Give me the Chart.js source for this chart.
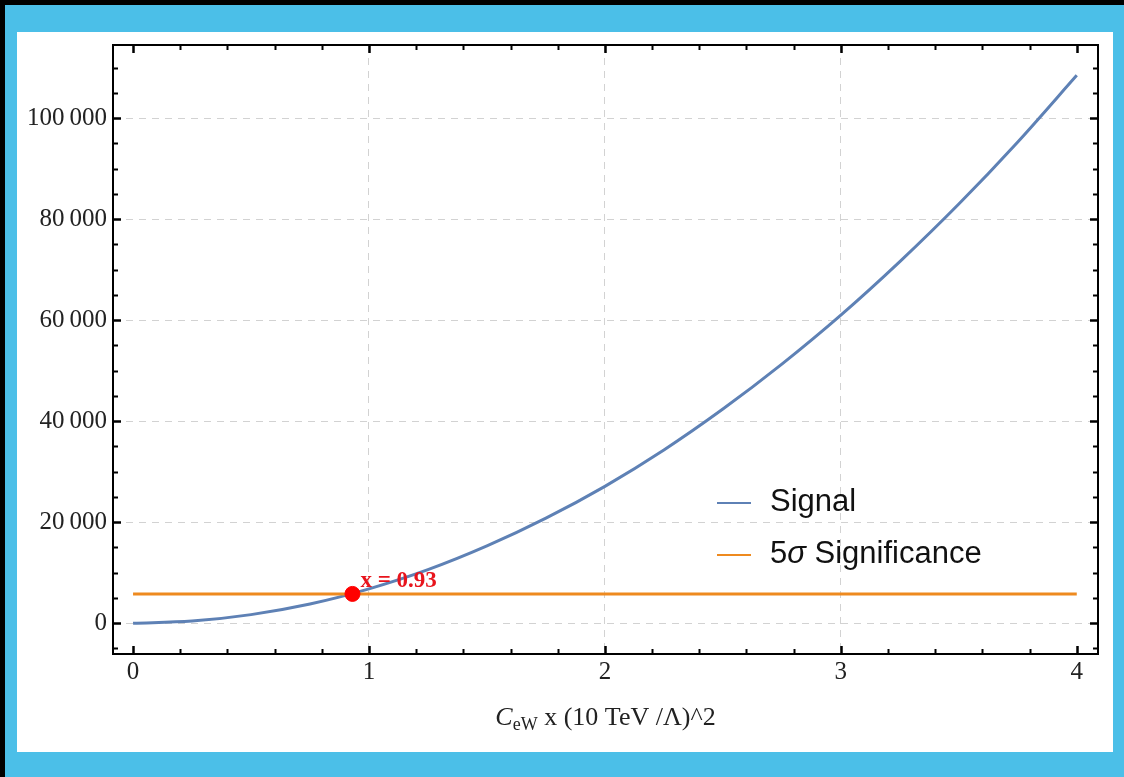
<!DOCTYPE html>
<html>
<head>
<meta charset="utf-8">
<script src="https://cdn.jsdelivr.net/npm/chart.js@4/dist/chart.umd.min.js"></script>
<style>
  html, body { margin: 0; padding: 0; }
  body { width: 1124px; height: 777px; background: #000; position: relative; overflow: hidden; }
  #frame { position: absolute; left: 5px; top: 5px; right: 0; bottom: 0; background: #4bbfe8; }
  #paper { position: absolute; left: 17px; top: 32px; width: 1096px; height: 720px; background: #fff; }
</style>
</head>
<body>
<div id="frame"></div>
<div id="paper"><canvas id="chart" width="1096" height="720"></canvas></div>
<script>
// Signal curve
const xValues = [0, 0.25, 0.5, 0.75, 1, 1.25, 1.5, 1.75, 2, 2.25, 2.5, 2.75, 3, 3.25, 3.5, 3.75, 4];
const signalValues = [0, 420, 1700, 3800, 6800, 10600, 15300, 20800, 27100, 34300, 42400, 51300, 61000, 71600, 83000, 95300, 108500];

// 5 sigma line and crossing point
const thresholdX = [0, 4];
const thresholdValue = 5800;
const crossX = 0.93;
const crossLabel = 'x = 0.93';

// Axes
const xTicks = [0, 1, 2, 3, 4];
const yTicks = [0, 20000, 40000, 60000, 80000, 100000];
const xRange = [-0.085, 4.09];
const yRange = [-6100, 114500];

const legendLabels = ['Signal', 'Significance'];
const signalColor = '#5e81b5';
const thresholdColor = '#ee8a1f';

const serif = '"Liberation Serif", "DejaVu Serif", serif';
const sans = '"Liberation Sans", Arial, sans-serif';

function fmt(v) {
    return String(v).replace(/\B(?=(\d{3})+(?!\d))/g, '\u2009');
}

// Mathematica style frame with inward ticks on all four sides
const framePlugin = {
    id: 'frame',
    afterDraw(chart) {
        const ctx = chart.ctx;
        const a = chart.chartArea;
        const xs = chart.scales.x, ys = chart.scales.y;
        ctx.save();
        ctx.strokeStyle = '#000';
        ctx.lineWidth = 2;
        ctx.strokeRect(a.left, a.top, a.right - a.left, a.bottom - a.top);

        for (let i = 0; i <= 20; i++) {
            const v = i * 0.2;
            const major = i % 5 === 0;
            const len = major ? 8 : 5;
            const px = Math.round(xs.getPixelForValue(v)) + 0.5;
            ctx.lineWidth = major ? 2.5 : 2;
            ctx.beginPath();
            ctx.moveTo(px, a.bottom); ctx.lineTo(px, a.bottom - len);
            ctx.moveTo(px, a.top); ctx.lineTo(px, a.top + len);
            ctx.stroke();
        }
        for (let v = -5000; v <= 110000; v += 5000) {
            const major = v % 20000 === 0;
            const len = major ? 8 : 5;
            const py = Math.round(ys.getPixelForValue(v)) + 0.5;
            ctx.lineWidth = major ? 2.5 : 2;
            ctx.beginPath();
            ctx.moveTo(a.left, py); ctx.lineTo(a.left + len, py);
            ctx.moveTo(a.right, py); ctx.lineTo(a.right - len, py);
            ctx.stroke();
        }

        // x axis title: C_eW x (10 TeV /Λ)^2
        const cx = (a.left + a.right) / 2;
        const by = a.bottom + 71;
        ctx.fillStyle = '#222';
        ctx.textBaseline = 'alphabetic';
        const parts = [
            { t: 'C', f: 'italic 26px ' + serif, dy: 0 },
            { t: 'eW', f: '18px ' + serif, dy: 5 },
            { t: ' x (10 TeV /\u039B)^2', f: '26px ' + serif, dy: 0 }
        ];
        let total = 0;
        parts.forEach(p => { ctx.font = p.f; p.w = ctx.measureText(p.t).width; total += p.w; });
        let x = cx - total / 2;
        ctx.textAlign = 'left';
        parts.forEach(p => { ctx.font = p.f; ctx.fillText(p.t, x, by + p.dy); x += p.w; });

        // legend inside plot
        const lx = a.left + 604, ly1 = a.top + 458, ly2 = a.top + 510;
        ctx.lineWidth = 2;
        ctx.strokeStyle = signalColor;
        ctx.beginPath(); ctx.moveTo(lx, ly1); ctx.lineTo(lx + 34, ly1); ctx.stroke();
        ctx.strokeStyle = thresholdColor;
        ctx.beginPath(); ctx.moveTo(lx, ly2); ctx.lineTo(lx + 34, ly2); ctx.stroke();
        ctx.fillStyle = '#111';
        ctx.textBaseline = 'middle';
        ctx.font = '31px ' + sans;
        ctx.fillText(legendLabels[0], lx + 53, ly1 - 1);
        let tx = lx + 53;
        ctx.fillText('5', tx, ly2 - 1);
        tx += ctx.measureText('5').width;
        ctx.font = 'italic 31px ' + sans;
        ctx.fillText('\u03C3', tx, ly2 - 1);
        tx += ctx.measureText('\u03C3 ').width;
        ctx.font = '31px ' + sans;
        ctx.fillText(legendLabels[1], tx, ly2 - 1);
        ctx.restore();
    },
    afterDatasetsDraw(chart) {
        const ctx = chart.ctx;
        const px = chart.scales.x.getPixelForValue(crossX);
        const py = chart.scales.y.getPixelForValue(thresholdValue);
        ctx.save();
        ctx.fillStyle = '#e8141c';
        ctx.font = 'bold 23px ' + serif;
        ctx.textBaseline = 'alphabetic';
        ctx.fillText(crossLabel, px + 8, py - 7);
        ctx.restore();
    }
};

new Chart(document.getElementById('chart'), {
    type: 'line',
    data: {
        datasets: [{
            label: 'Signal',
            data: xValues.map((x, i) => ({ x: x, y: signalValues[i] })),
            borderColor: signalColor,
            borderWidth: 3,
            pointRadius: 0,
            cubicInterpolationMode: 'monotone',
            order: 2
        }, {
            label: '5\u03C3 Significance',
            data: thresholdX.map(x => ({ x: x, y: thresholdValue })),
            borderColor: thresholdColor,
            borderWidth: 3,
            pointRadius: 0,
            order: 1
        }, {
            type: 'scatter',
            label: 'crossing',
            data: [{ x: crossX, y: thresholdValue }],
            backgroundColor: '#f00',
            borderColor: '#f00',
            pointRadius: 7.5,
            order: 0
        }]
    },
    options: {
        responsive: false,
        animation: false,
        devicePixelRatio: 1,
        layout: { padding: { top: 13, right: 15, left: 0, bottom: 0 } },
        scales: {
            x: {
                type: 'linear',
                min: xRange[0],
                max: xRange[1],
                afterBuildTicks: s => { s.ticks = xTicks.map(v => ({ value: v })); },
                afterFit: s => { s.height = 98; s.paddingLeft = 0; s.paddingRight = 0; },
                ticks: {
                    font: { family: serif, size: 25 },
                    color: '#222',
                    padding: 3,
                    maxRotation: 0
                },
                grid: {
                    drawTicks: false,
                    lineWidth: 1,
                    color: c => (c.tick && c.tick.value > 0 && c.tick.value < 4) ? '#d2d2d2' : 'rgba(0,0,0,0)'
                },
                border: { display: false, dash: [7, 6] }
            },
            y: {
                type: 'linear',
                min: yRange[0],
                max: yRange[1],
                afterBuildTicks: s => { s.ticks = yTicks.map(v => ({ value: v })); },
                afterFit: s => { s.width = 96; s.paddingTop = 0; s.paddingBottom = 0; },
                ticks: {
                    font: { family: serif, size: 25 },
                    color: '#222',
                    padding: 6,
                    callback: v => fmt(v)
                },
                grid: { drawTicks: false, lineWidth: 1, color: '#d2d2d2' },
                border: { display: false, dash: [7, 6] }
            }
        },
        plugins: {
            legend: { display: false },
            tooltip: { enabled: false }
        }
    },
    plugins: [framePlugin]
});
</script>
</body>
</html>
